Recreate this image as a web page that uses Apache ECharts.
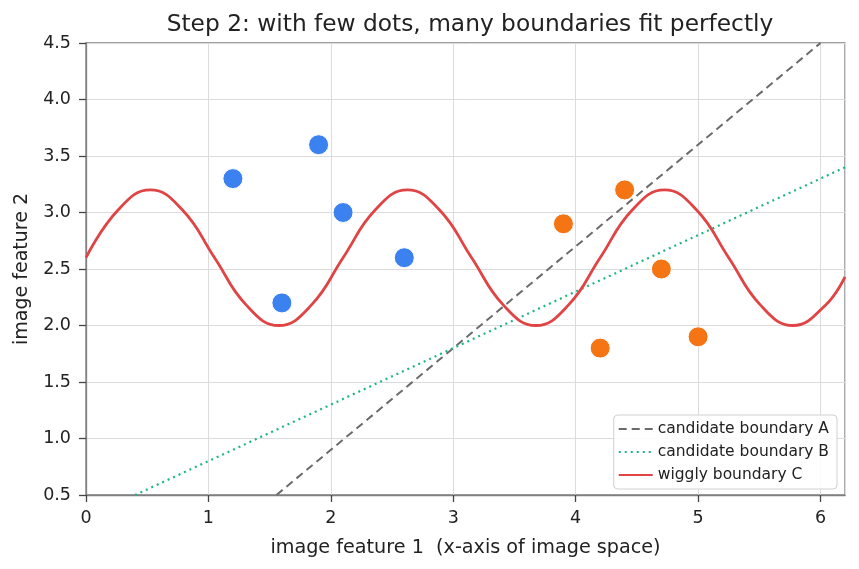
<!DOCTYPE html>
<html>
<head>
<meta charset="utf-8">
<script src="https://cdn.jsdelivr.net/npm/echarts@6/dist/echarts.min.js"></script>
<style>
html,body{margin:0;padding:0;background:#fff;}
#main{width:859px;height:569px;}
</style>
</head>
<body>
<div id="main"></div>
<script>
// dots
var blueDots = [[1.2, 3.3], [1.6, 2.2], [1.9, 3.6], [2.1, 3.0], [2.6, 2.6]];
var orangeDots = [[3.9, 2.9], [4.2, 1.8], [4.4, 3.2], [4.7, 2.5], [5.0, 1.9]];
// straight boundaries (end points)
var lineA = [[1.556, 0.5], [6.0, 4.5]];
var lineB = [[0.4, 0.5], [6.2, 3.4]];
// wiggly boundary, sampled points
var wigX = [0, 0.26, 0.525, 0.79, 1.05, 1.31, 1.575, 1.84, 2.1, 2.36, 2.625, 2.89, 3.15, 3.41, 3.675, 3.94, 4.2, 4.46, 4.725, 4.99, 5.25, 5.51, 5.775, 6.04, 6.2];
var wigY = [2.6, 3.02, 3.2, 3.02, 2.6, 2.18, 2.0, 2.18, 2.6, 3.02, 3.2, 3.02, 2.6, 2.18, 2.0, 2.18, 2.6, 3.02, 3.2, 3.02, 2.6, 2.18, 2.0, 2.18, 2.43];
var names = ['candidate boundary A', 'candidate boundary B', 'wiggly boundary C'];

var wig = [];
for (var i = 0; i < wigX.length; i++) {
    wig.push([wigX[i], wigY[i]]);
}

var myChart = echarts.init(document.getElementById('main'));
var font = 'DejaVu Sans';
var option = {
    backgroundColor: '#fff',
    animation: false,
    textStyle: {fontFamily: font},
    title: {
        text: 'Step 2: with few dots, many boundaries fit perfectly',
        left: 465, top: 8, textAlign: 'center',
        textStyle: {fontFamily: font, fontSize: 23.3, fontWeight: 'normal', color: '#222'}
    },
    grid: {
        left: 86, right: 14, top: 43, bottom: 74,
        containLabel: false, outerBoundsMode: 'none',
        show: true, borderColor: '#808080', borderWidth: 1.3
    },
    legend: {
        orient: 'vertical',
        right: 22, bottom: 80,
        data: names,
        itemWidth: 34, itemHeight: 10, itemGap: 7,
        padding: [6, 8, 6, 4],
        borderColor: '#d0d0d0', borderWidth: 1, borderRadius: 4,
        backgroundColor: 'rgba(255,255,255,0.85)',
        itemStyle: {opacity: 0},
        textStyle: {fontFamily: font, fontSize: 15.5, color: '#222'}
    },
    xAxis: {
        type: 'value', min: 0, max: 6.2, interval: 1,
        name: 'image feature 1  (x-axis of image space)',
        nameLocation: 'middle', nameGap: 44,
        nameTextStyle: {fontFamily: font, fontSize: 19.2, color: '#222'},
        axisLine: {lineStyle: {color: '#808080', width: 1.3}},
        axisTick: {show: true, length: 7, lineStyle: {color: '#444', width: 1.3}},
        axisLabel: {fontFamily: font, fontSize: 17.5, color: '#222', margin: 14, showMaxLabel: false},
        splitLine: {lineStyle: {color: '#dcdcdc', width: 1}}
    },
    yAxis: {
        type: 'value', min: 0.5, max: 4.5, interval: 0.5,
        name: 'image feature 2',
        nameLocation: 'middle', nameGap: 54,
        nameTextStyle: {fontFamily: font, fontSize: 19, color: '#222'},
        axisLine: {show: true, lineStyle: {color: '#808080', width: 1.3}},
        axisTick: {show: true, length: 7, lineStyle: {color: '#444', width: 1.3}},
        axisLabel: {fontFamily: font, fontSize: 17.5, color: '#222', margin: 15,
            formatter: function (v) { return v.toFixed(1); }},
        splitLine: {lineStyle: {color: '#dcdcdc', width: 1}}
    },
    series: [
        {
            name: names[0], type: 'line', data: lineA, showSymbol: false, symbol: 'none',
            lineStyle: {color: '#6b6b6b', width: 2, type: [8, 5]}, itemStyle: {color: '#6b6b6b'},
            z: 3
        },
        {
            name: names[1], type: 'line', data: lineB, showSymbol: false, symbol: 'none',
            lineStyle: {color: '#1db584', width: 2.2, type: [2, 4]}, itemStyle: {color: '#1db584'},
            z: 3
        },
        {
            name: names[2], type: 'line', data: wig, showSymbol: false, symbol: 'none',
            smooth: 0.45,
            lineStyle: {color: '#e04444', width: 2.8}, itemStyle: {color: '#e04444'},
            z: 4
        },
        {
            name: 'blue', type: 'scatter', data: blueDots, symbolSize: 20,
            itemStyle: {color: '#3b82f0', borderColor: '#fff', borderWidth: 1, opacity: 1},
            z: 5
        },
        {
            name: 'orange', type: 'scatter', data: orangeDots, symbolSize: 20,
            itemStyle: {color: '#f57514', borderColor: '#fff', borderWidth: 1, opacity: 1},
            z: 5
        }
    ]
};
myChart.setOption(option);
</script>
</body>
</html>
